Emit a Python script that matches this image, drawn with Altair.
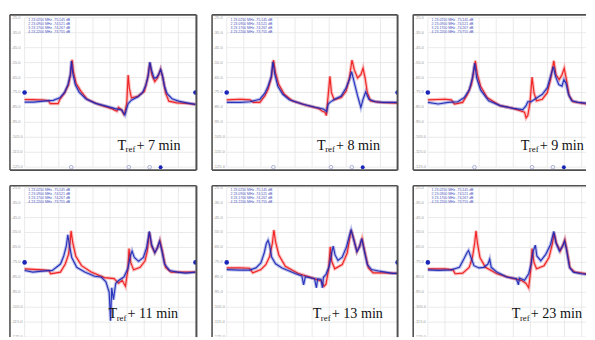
import altair as alt
import pandas as pd

# ---------------- data (x: 0-100 horizontal divisions, y: level in dB) ----------------
p1_red = [(0,-79.7),(5,-79.8),(11,-80.0),(14,-80.5),(15,-82.5),(19.6,-82.5),(20.6,-79.7),(23.4,-75.3),(25.7,-69.9),(27,-62.3),(27.8,-53.1),(28.6,-61.2),(30.1,-68.8),(33,-74.2),(36.8,-79.7),(43.4,-83),(51,-85.8),(54,-87.5),(55,-85),(56.8,-86.7),(58,-89.5),(58.7,-88.4),(59.8,-81.9),(60.6,-63.3),(61.3,-72),(62.5,-78.6),(66.3,-77.5),(70.1,-74.2),(72,-65.5),(73.3,-55.3),(74.5,-63.3),(76.2,-67.7),(77.7,-65.5),(79.6,-59.6),(81,-65.5),(82.5,-75.3),(84.4,-80.8),(89.1,-81.9),(94.9,-82.3),(100,-83)]
p1_blue = [(0,-81.4),(5.3,-81.4),(11,-80.8),(16.8,-80.3),(20.6,-78.6),(23.4,-74.9),(25.3,-69.9),(26.7,-63.3),(27.4,-54.0),(28.2,-62.3),(29.7,-69.9),(32,-74.9),(35.8,-79.2),(41.5,-82.3),(47.2,-84.0),(53,-85.8),(56.8,-86.7),(58.7,-90.1),(59.6,-86.2),(60.6,-82.5),(62.5,-80.1),(66.3,-77.9),(69.1,-74.9),(71,-69.9),(72.4,-63.3),(73.3,-54.6),(74.3,-60.1),(75.8,-65.5),(77.3,-64.9),(78.7,-62.3),(79.6,-59.6),(80.6,-63.3),(81.9,-71.0),(83.4,-75.8),(86.3,-79.2),(90.1,-80.8),(94.9,-81.9),(100,-83.0)]

p2_red = [(0,-79.9),(8,-79.5),(13.7,-79.9),(15.6,-81.6),(19.4,-81.6),(22.3,-77.3),(24.2,-72.9),(26.1,-65.3),(27.4,-53.3),(28.6,-62),(30.5,-69.7),(33.7,-76.2),(38.5,-80.6),(46.1,-83.4),(53.7,-85.6),(56,-87.5),(57.5,-88.2),(58.3,-90.5),(59,-81.6),(60.4,-64.2),(61.3,-75.1),(62.9,-79.9),(67,-78.4),(69.9,-74),(71.8,-65.3),(73.3,-53.3),(74.7,-59.9),(76.6,-65.3),(78.5,-63.1),(79.8,-58.8),(81,-65.3),(82.3,-75.1),(84.2,-80.6),(89.9,-81.6),(100,-82.1)]
p2_blue = [(0,-81.6),(8,-81.6),(13.7,-81.2),(19.4,-79.5),(22.3,-75.5),(24.2,-70.8),(26.1,-64.2),(27,-54.4),(28.2,-63.1),(29.9,-70.8),(32.8,-76.2),(36.6,-79.9),(44.2,-82.7),(51.8,-84.9),(56.6,-86),(58.5,-87.7),(59.4,-82.7),(60.4,-81.6),(63.2,-79.5),(67,-77.3),(69.9,-71.8),(71.8,-66.4),(73.1,-61),(74.7,-68.6),(76.6,-77.3),(78.5,-84.9),(79.8,-79.5),(81.3,-74.7),(83.2,-79.5),(87,-81.2),(91.8,-81.6),(100,-81.6)]

p3_red = [(0,-79.9),(9.9,-79.5),(13.7,-79.9),(15.6,-82.7),(20.4,-81.6),(23.2,-76.2),(25.5,-69.7),(27,-59.9),(27.8,-53.8),(29,-63.1),(30.9,-70.8),(34.7,-78.4),(42.3,-83.8),(49.9,-85.6),(56.6,-88.2),(57.5,-92),(58.5,-90.4),(59.8,-81.6),(61,-64.7),(62.1,-75.1),(63.6,-80.6),(67,-79.5),(69.9,-75.1),(71.8,-66.4),(73.7,-53.8),(75,-63.1),(76.9,-66.4),(78.5,-63.1),(79.8,-58.8),(81.1,-66.4),(82.7,-77.3),(85.1,-81.2),(92.8,-82.7),(100,-83)]
p3_blue = [(0,-81.6),(6.1,-82.7),(11.8,-81.6),(17.5,-81.2),(21.3,-78.4),(24.2,-73.4),(26.1,-65.3),(27.4,-55.5),(28.6,-65.3),(30.9,-73.4),(35.6,-80.6),(42.3,-83.8),(49.9,-85.6),(55.6,-86.4),(57.5,-83.8),(58.5,-81.2),(60.4,-81.2),(63.2,-79),(67,-76.2),(69.9,-71.8),(71.8,-64.2),(73.5,-57.7),(74.7,-64.2),(76.6,-69.7),(78.5,-70.8),(79.6,-66.4),(80.8,-68.6),(82.3,-76.2),(84.2,-80.6),(88,-81.6),(92.8,-82.1),(100,-82.5)]

p4_red = [(0,-79.3),(10.5,-80),(14.3,-80.4),(15.2,-82.6),(21,-81.5),(23.8,-76.1),(25.7,-69.6),(26.7,-60.9),(27.2,-53.9),(28.2,-62),(29.9,-70.7),(33.3,-77.2),(39,-81.5),(46.7,-85.2),(52.4,-85.9),(55,-89),(57.1,-87),(59,-91),(60.4,-80.4),(61.1,-65.7),(62.1,-75),(63.8,-80),(67.6,-78.3),(70.5,-73.9),(71.8,-67.4),(73,-54.8),(74.3,-64.1),(76.2,-68.5),(77.7,-65.2),(79.2,-60.4),(80.6,-67.4),(82.5,-78.3),(85.7,-81.5),(92.4,-81.5),(100,-81.5)]
p4_blue = [(0,-80.4),(4.8,-81.5),(10.5,-80.9),(16.2,-80.4),(21,-76.1),(22.9,-70.7),(24.4,-64.1),(25.3,-56.5),(26.3,-64.1),(27.6,-71.7),(30.5,-78.3),(35.2,-81.5),(41,-84.3),(44.8,-84.8),(47.6,-88),(49.5,-95),(50.3,-114),(51,-92),(52,-100),(53.3,-89.1),(55.2,-87),(58.1,-84.8),(60.4,-79.3),(61.9,-70.7),(62.9,-67.4),(64.2,-71.7),(66.7,-74.3),(69.5,-71.7),(71.4,-65.2),(73,-54.3),(74.3,-63),(76.2,-68.5),(77.7,-65.2),(79,-60.9),(80.4,-67.4),(81.9,-76.1),(84.8,-80.4),(89.5,-81.5),(94.3,-82.2),(100,-81.5)]

p5_red = [(0,-78.7),(7.6,-78.7),(13.3,-78.9),(15.2,-82),(20,-79.8),(22.9,-76.5),(25.1,-71.1),(26.7,-62.4),(27.6,-53.3),(28.6,-61.3),(30.5,-70),(34.3,-77.6),(41.9,-82.4),(49.5,-85.2),(55.2,-87.4),(57,-91),(58.1,-89.6),(59.6,-79.8),(60.6,-64.6),(61.5,-74.3),(63.2,-79.3),(67.6,-76.5),(70.5,-68.9),(72.8,-53.3),(74.3,-59.1),(76.2,-67.8),(77.7,-64.6),(79.2,-59.1),(80.6,-66.7),(82.9,-78.7),(85.7,-82),(91.4,-82),(100,-82.4)]
p5_blue = [(0,-79.8),(7.6,-80.2),(13.3,-80.2),(17.1,-78.7),(20,-75.4),(21.9,-68.9),(23.2,-62.4),(24.2,-60.2),(25.1,-63.5),(26.3,-71.5),(28.6,-75.9),(32.4,-78.7),(40,-82.4),(44,-84),(45,-90),(46,-84.5),(51.4,-85.9),(52.5,-92),(53.2,-86),(55.2,-86.3),(56,-92),(56.6,-85),(58.1,-83),(60,-77.6),(61,-71.1),(62.3,-64.1),(63.4,-70),(65.1,-73.7),(67.6,-71.5),(70.1,-64.6),(71.6,-58),(72.8,-53.3),(73.9,-58),(76.2,-67.8),(77.7,-64.6),(79,-59.1),(80.4,-66.7),(82.3,-76.5),(84.8,-79.8),(89.5,-80.9),(97.1,-82.4),(100,-82.4)]

p6_red = [(0,-79.3),(9.9,-79.3),(14.7,-80),(16,-82.6),(20.4,-82.2),(24.2,-78.3),(26.1,-71.7),(27.4,-62),(28.2,-53.9),(29,-62),(30.5,-71.7),(33.7,-78.3),(40.4,-82.6),(48,-85.2),(54.7,-87),(57.5,-89.1),(59,-92),(60.2,-80.4),(61,-65.7),(62.1,-75),(63.6,-79.3),(68,-77.2),(70.9,-71.7),(72.8,-63),(73.9,-55.4),(75.2,-62),(77.5,-67.4),(79,-63.5),(80.2,-59.8),(81.5,-67.4),(83.2,-78.7),(86.1,-81.5),(92.8,-82.6),(100,-83)]
p6_blue = [(0,-80),(6.1,-80.4),(13.7,-80),(18.5,-78.3),(21.3,-72.2),(22.9,-68.5),(23.8,-67),(25.1,-71.3),(27,-77.2),(29.9,-78.7),(32.8,-78.3),(35.2,-76.1),(36.2,-72.8),(37.1,-78.3),(40.4,-81.5),(46.1,-84.8),(51.8,-85.9),(53,-90),(53.6,-85.5),(56.6,-87),(59,-82.6),(60.4,-76.1),(61.7,-67.4),(62.9,-63.5),(63.8,-70.7),(66.1,-73.9),(69,-69.6),(71.8,-63),(73.7,-54.3),(75,-62),(77,-67.4),(78.9,-64.1),(80,-60.9),(81.1,-66.3),(82.9,-78.3),(85.1,-81.5),(89.9,-82.6),(92.8,-83),(100,-83)]

red_traces = [p1_red, p2_red, p3_red, p4_red, p5_red, p6_red]
blue_traces = [p1_blue, p2_blue, p3_blue, p4_blue, p5_blue, p6_blue]

minutes = ["7", "8", "9", "11", "13", "23"]
label_x = [54.3, 52.8, 54.3, 49.1, 50.3, 49.1]
label_y = [-113.2, -113.2, -113.2, -112.0, -112.0, -112.0]

grid_x = [0, 10, 20, 30, 40, 50, 60, 70, 80, 90, 100]
grid_y = [-25, -35, -45, -55, -65, -75, -85, -95, -105, -115, -125]
tick_labels = ["-25.0", "-35.0", "-45.0", "-55.0", "-65.0", "-75.0", "-85.0", "-95.0", "-105.0", "-115.0", "-125.0"]
ref_level = -75
marker_x = [27.3, 61.0, 73.2, 79.6]
marker_filled = [False, False, False, True]
legend_lines = ["1   23.0250 MHz   -75.145 dB", "2   23.0900 MHz   -74.521 dB", "3   23.1700 MHz   -74.267 dB", "4   23.2200 MHz   -73.755 dB"]
legend_y = [-26.6, -29.2, -31.8, -34.4]

RED = "#f01414"
BLUE = "#1a26b8"
FRAME = "#505050"
GRID = "#e4e4e4"

panel_w = [191, 190, 177]
row_h = [159, 155]
row_top_px = [3, 2]
PX_X = 1.75
PX_Y = 1.53


def make_panel(i):
    col, row = i % 3, i // 3
    W, H = panel_w[col], row_h[row]
    tp = row_top_px[row]
    xs = alt.Scale(domain=[-15 / PX_X, (W - 15) / PX_X], nice=False, zero=False)
    ys = alt.Scale(domain=[-25 - (H - tp) / PX_Y, -25 + tp / PX_Y], nice=False, zero=False)

    vgrid = alt.Chart(pd.DataFrame({"gx": grid_x, "ya": -25, "yb": -125})).mark_rule(
        color=GRID, strokeWidth=0.8, clip=True).encode(
        x=alt.X("gx:Q", scale=xs, axis=None), y=alt.Y("ya:Q", scale=ys, axis=None), y2="yb:Q")
    hgrid = alt.Chart(pd.DataFrame({"gy": grid_y, "xa": 0, "xb": 100})).mark_rule(
        color=GRID, strokeWidth=0.8, clip=True).encode(
        y=alt.Y("gy:Q", scale=ys, axis=None), x=alt.X("xa:Q", scale=xs, axis=None), x2="xb:Q")
    ticks = alt.Chart(pd.DataFrame({"gy": grid_y, "lab": tick_labels, "lx": -7.8})).mark_text(
        fontSize=4.2, color="#9a9a9a", align="left", baseline="middle", font="Liberation Sans", clip=True).encode(
        x=alt.X("lx:Q", scale=xs, axis=None), y=alt.Y("gy:Q", scale=ys, axis=None), text="lab:N")
    legend = alt.Chart(pd.DataFrame({"ly": legend_y, "t": legend_lines, "lx": 2.2})).mark_text(
        fontSize=3.6, color="#4a55c0", align="left", baseline="middle", font="Liberation Sans", clip=True).encode(
        x=alt.X("lx:Q", scale=xs, axis=None), y=alt.Y("ly:Q", scale=ys, axis=None), text="t:N")

    def trace(pts, color):
        df = pd.DataFrame(pts, columns=["x", "y"])
        df["i"] = range(len(df))
        base = alt.Chart(df).encode(
            x=alt.X("x:Q", scale=xs, axis=None), y=alt.Y("y:Q", scale=ys, axis=None), order="i:Q")
        halo = base.mark_line(color=color, strokeWidth=3.4, opacity=0.28, clip=True)
        core = base.mark_line(color=color, strokeWidth=1.2, opacity=0.9, clip=True)
        return [halo, core]

    refdots = alt.Chart(pd.DataFrame({"x": [0, 100], "y": [ref_level, ref_level]})).mark_circle(
        color=BLUE, size=22, opacity=1, clip=True).encode(
        x=alt.X("x:Q", scale=xs, axis=None), y=alt.Y("y:Q", scale=ys, axis=None))
    extra = []
    if row == 0:
        mk = pd.DataFrame({"x": marker_x, "y": -125, "f": marker_filled})
        extra.append(alt.Chart(mk[~mk.f]).mark_point(
            color="#8890c8", size=14, strokeWidth=1, filled=False, clip=True).encode(
            x=alt.X("x:Q", scale=xs, axis=None), y=alt.Y("y:Q", scale=ys, axis=None)))
        extra.append(alt.Chart(mk[mk.f]).mark_circle(
            color=BLUE, size=16, opacity=1, clip=True).encode(
            x=alt.X("x:Q", scale=xs, axis=None), y=alt.Y("y:Q", scale=ys, axis=None)))

    lab = pd.DataFrame({"x": [label_x[i]], "y": [label_y[i]], "m": ["+ " + minutes[i] + " min"]})
    tbase = alt.Chart(lab).encode(x=alt.X("x:Q", scale=xs, axis=None), y=alt.Y("y:Q", scale=ys, axis=None))
    t1 = tbase.mark_text(text="T", font="Liberation Serif", fontSize=14.5, color="#111",
                         align="left", baseline="alphabetic", clip=True)
    t2 = tbase.mark_text(text="ref", font="Liberation Serif", fontSize=9, color="#111",
                         align="left", baseline="alphabetic", dx=8.4, dy=3, clip=True)
    t3 = tbase.mark_text(font="Liberation Serif", fontSize=14.5, color="#111",
                         align="left", baseline="alphabetic", dx=19.5, clip=True).encode(text="m:N")

    one = pd.DataFrame({"k": [0]})
    frame = [
        alt.Chart(one).mark_rule(color=FRAME, strokeWidth=1.6).encode(
            x=alt.value(0), y=alt.value(0), y2=alt.value(H)),
        alt.Chart(one).mark_rule(color=FRAME, strokeWidth=1.6).encode(
            x=alt.value(0), x2=alt.value(W), y=alt.value(0)),
    ]
    if col < 2:
        frame.append(alt.Chart(one).mark_rule(color=FRAME, strokeWidth=2).encode(
            x=alt.value(W), y=alt.value(0), y2=alt.value(H)))
    if row == 0:
        frame.append(alt.Chart(one).mark_rule(color=FRAME, strokeWidth=2).encode(
            x=alt.value(0), x2=alt.value(W), y=alt.value(H)))

    layers = [vgrid, hgrid, ticks, legend] + trace(red_traces[i], RED) + trace(blue_traces[i], BLUE) + \
        [refdots] + extra + [t1, t2, t3] + frame
    return alt.layer(*layers).properties(width=W, height=H)


rows = [alt.hconcat(*[make_panel(r * 3 + c) for c in range(3)], spacing=14) for r in range(2)]
chart = alt.vconcat(*rows, spacing=14).properties(
    padding={"left": 1, "top": 2, "right": 0, "bottom": 0},
    background="white",
).configure_view(stroke=None)

chart.save("out.html", embed_options={"renderer": "svg", "actions": False})
